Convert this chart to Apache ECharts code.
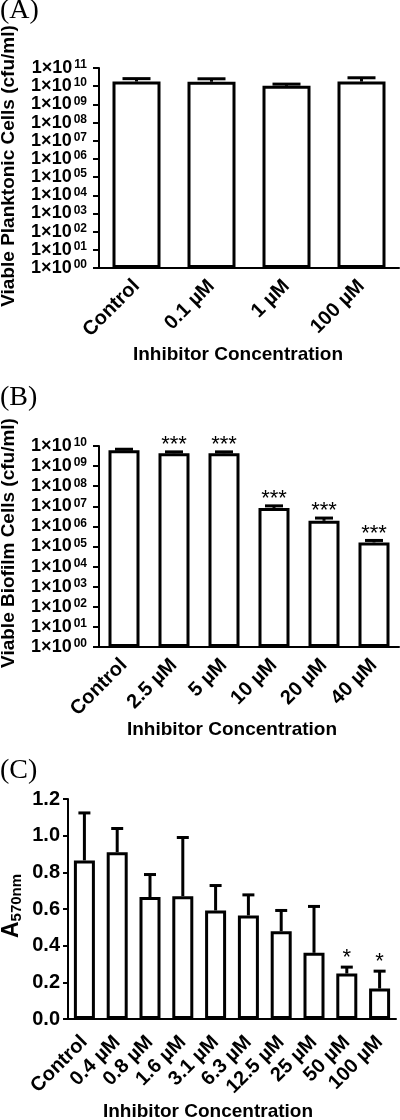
<!DOCTYPE html>
<html><head><meta charset="utf-8">
<script src="https://cdn.jsdelivr.net/npm/echarts@6/dist/echarts.min.js"></script>
<style>html,body{margin:0;padding:0;background:#fff}#c{width:400px;height:1120px}</style>
</head><body><div id="c"></div>
<script>
// ---- Data ----
const categoriesA = ['Control', '0.1 µM', '1 µM', '100 µM'];
const meanA = [1.8e10, 1.75e10, 1.05e10, 1.8e10];
const upperA = [2.6e10, 2.55e10, 1.3e10, 2.9e10];
const starsA = ['', '', '', ''];

const categoriesB = ['Control', '2.5 µM', '5 µM', '10 µM', '20 µM', '40 µM'];
const meanB = [6.2e9, 4.4e9, 4.4e9, 8.3e6, 1.9e6, 1.6e5];
const upperB = [6.9e9, 5.1e9, 5.1e9, 1.05e7, 2.6e6, 2.0e5];
const starsB = ['', '***', '***', '***', '***', '***'];

const categoriesC = ['Control', '0.4 µM', '0.8 µM', '1.6 µM', '3.1 µM', '6.3 µM', '12.5 µM', '25 µM', '50 µM', '100 µM'];
const meanC = [0.865, 0.91, 0.665, 0.67, 0.592, 0.565, 0.479, 0.361, 0.248, 0.166];
const upperC = [1.124, 1.039, 0.788, 0.99, 0.728, 0.677, 0.592, 0.614, 0.283, 0.261];
const starsC = ['', '', '', '', '', '', '', '', '*', '*'];

const yTicksC = ['0.0', '0.2', '0.4', '0.6', '0.8', '1.0', '1.2'];

// ---- Styling ----
const SANS = '"Liberation Sans", Arial, sans-serif';
const SERIF = '"Liberation Serif", "Times New Roman", serif';

function logLabel(v) {
  const e = Math.round(Math.log10(v));
  return '{b|1×10}{s|' + String(e).padStart(2, '0') + '}';
}
const logRich = {
  b: {fontSize: 18, fontWeight: 'bold', fontFamily: SANS, color: '#000', lineHeight: 18},
  s: {fontSize: 12, fontWeight: 'bold', fontFamily: SANS, color: '#000', verticalAlign: 'top', lineHeight: 18, padding: [0, 0, 0, 2]}
};

function errRender(capW, stars, starFont, starGap) {
  return function (params, api) {
    const i = api.value(0);
    const p0 = api.coord([i, api.value(1)]);
    const p1 = api.coord([i, api.value(2)]);
    const st = {stroke: '#000', lineWidth: 3};
    const ch = [
      {type: 'line', shape: {x1: p0[0], y1: p0[1], x2: p1[0], y2: p1[1]}, style: st},
      {type: 'line', shape: {x1: p1[0] - capW / 2, y1: p1[1], x2: p1[0] + capW / 2, y2: p1[1]}, style: st}
    ];
    const s = stars[params.dataIndex];
    if (s) {
      ch.push({type: 'text', x: p1[0], y: p1[1] - starGap,
        style: {text: s, font: starFont, fill: '#000', textAlign: 'center', textVerticalAlign: 'middle'}});
    }
    return {type: 'group', children: ch};
  };
}

function catAxis(gi, cats, margin) {
  return {
    type: 'category', gridIndex: gi, data: cats,
    axisLine: {lineStyle: {color: '#000', width: 2}},
    axisTick: {alignWithLabel: true, length: 6, lineStyle: {color: '#000', width: 2}},
    axisLabel: {rotate: 45, margin: margin, interval: 0, color: '#000', fontSize: 20, fontWeight: 'bold', fontFamily: SANS}
  };
}
function logAxis(gi, maxV) {
  return {
    type: 'log', gridIndex: gi, logBase: 10, min: 1, max: maxV, interval: 1,
    axisLine: {show: true, lineStyle: {color: '#000', width: 2}},
    axisTick: {show: true, length: 6, lineStyle: {color: '#000', width: 2}},
    splitLine: {show: false},
    axisLabel: {margin: 12, formatter: logLabel, rich: logRich}
  };
}
const pairs = (m, u) => m.map((v, i) => [i, v, u[i]]);
const barStyle = {color: '#fff', borderColor: '#000', borderWidth: 3};
const titleFont = 'bold 19px ' + SANS;

const option = {
  animation: false,
  backgroundColor: '#fff',
  grid: [
    {left: 99, width: 300, top: 68, height: 200},
    {left: 99, width: 300, top: 446, height: 201},
    {left: 68, width: 328, top: 799, height: 220}
  ],
  xAxis: [catAxis(0, categoriesA, 15), catAxis(1, categoriesB, 15), catAxis(2, categoriesC, 20)],
  yAxis: [
    logAxis(0, 1e11),
    logAxis(1, 1e10),
    {
      type: 'value', gridIndex: 2, min: 0, max: 1.2, interval: 0.2,
      axisLine: {show: true, lineStyle: {color: '#000', width: 2}},
      axisTick: {show: true, length: 5, lineStyle: {color: '#000', width: 2}},
      splitLine: {show: false},
      axisLabel: {margin: 8, color: '#000', fontSize: 20, fontWeight: 'bold', fontFamily: SANS,
        formatter: (v) => yTicksC[Math.round(v / 0.2)]}
    }
  ],
  series: [
    {type: 'bar', xAxisIndex: 0, yAxisIndex: 0, data: meanA, barWidth: 48, itemStyle: barStyle, z: 2},
    {type: 'custom', xAxisIndex: 0, yAxisIndex: 0, data: pairs(meanA, upperA), renderItem: errRender(28, starsA, '22px ' + SANS, 10), z: 3},
    {type: 'bar', xAxisIndex: 1, yAxisIndex: 1, data: meanB, barWidth: 31, itemStyle: barStyle, z: 2},
    {type: 'custom', xAxisIndex: 1, yAxisIndex: 1, data: pairs(meanB, upperB), renderItem: errRender(18, starsB, '22px ' + SANS, 7), z: 3},
    {type: 'bar', xAxisIndex: 2, yAxisIndex: 2, data: meanC, barWidth: 21, itemStyle: barStyle, z: 2},
    {type: 'custom', xAxisIndex: 2, yAxisIndex: 2, data: pairs(meanC, upperC), renderItem: errRender(12, starsC, '22px ' + SANS, 9), z: 3}
  ],
  graphic: [
    {type: 'text', left: 0, top: -3, style: {text: '(A)', font: '28px ' + SERIF, fill: '#000'}},
    {type: 'text', left: 0, top: 384, style: {text: '(B)', font: '28px ' + SERIF, fill: '#000'}},
    {type: 'text', left: 0, top: 757, style: {text: '(C)', font: '28px ' + SERIF, fill: '#000'}},
    {type: 'text', x: 9, y: 166, rotation: Math.PI / 2,
      style: {text: 'Viable Planktonic Cells (cfu/ml)', font: titleFont, fill: '#000', textAlign: 'center', textVerticalAlign: 'middle'}},
    {type: 'text', x: 9, y: 543, rotation: Math.PI / 2,
      style: {text: 'Viable Biofilm Cells (cfu/ml)', font: titleFont, fill: '#000', textAlign: 'center', textVerticalAlign: 'middle'}},
    {type: 'text', x: 238, y: 355,
      style: {text: 'Inhibitor Concentration', font: titleFont, fill: '#000', textAlign: 'center', textVerticalAlign: 'middle'}},
    {type: 'text', x: 232, y: 730,
      style: {text: 'Inhibitor Concentration', font: titleFont, fill: '#000', textAlign: 'center', textVerticalAlign: 'middle'}},
    {type: 'text', x: 208, y: 1112,
      style: {text: 'Inhibitor Concentration', font: titleFont, fill: '#000', textAlign: 'center', textVerticalAlign: 'middle'}},
    {type: 'text', x: 12, y: 906, rotation: Math.PI / 2,
      style: {text: '{a|A}{s|570nm}', textAlign: 'center', textVerticalAlign: 'middle',
        rich: {a: {fontSize: 23, fontWeight: 'bold', fontFamily: SANS, fill: '#000', lineHeight: 24},
               s: {fontSize: 15, fontWeight: 'bold', fontFamily: SANS, fill: '#000', verticalAlign: 'bottom', lineHeight: 24}}}}
  ]
};
const chart = echarts.init(document.getElementById('c'), null, {renderer: 'canvas'});
chart.setOption(option);
</script>
</body></html>
